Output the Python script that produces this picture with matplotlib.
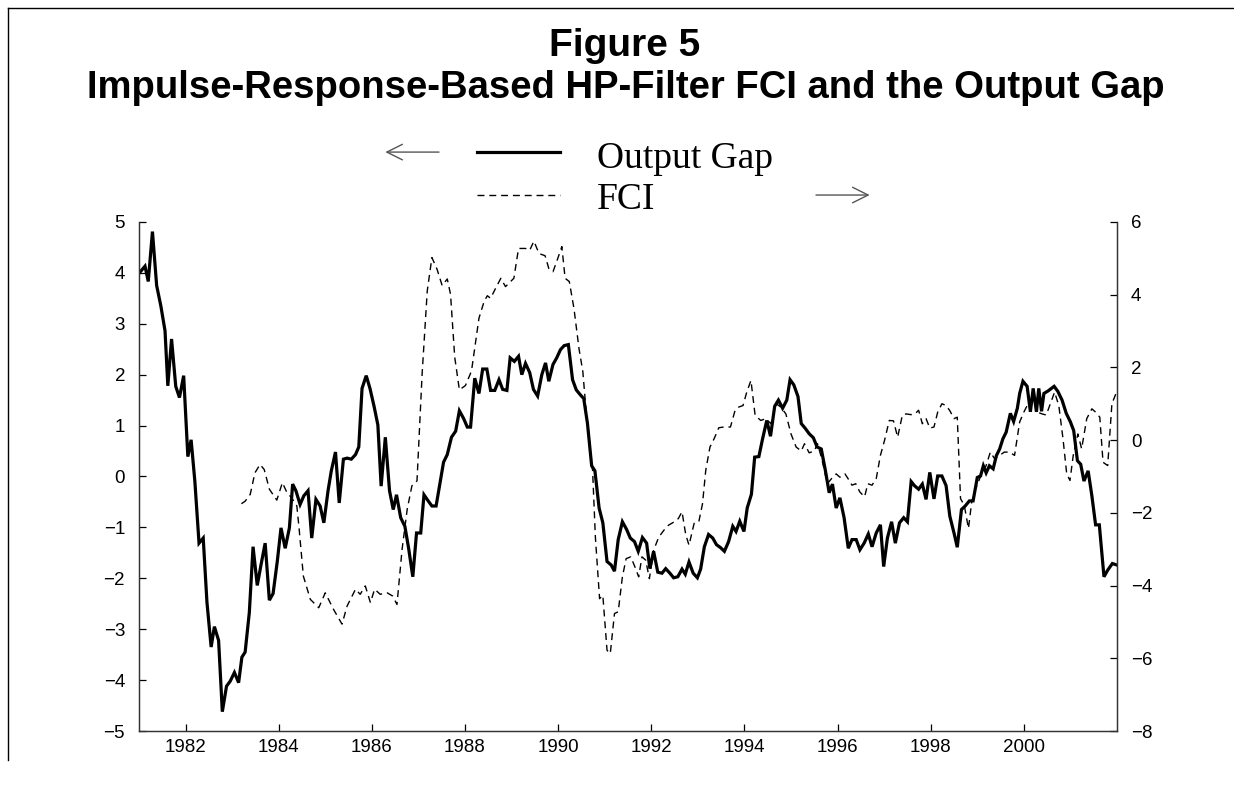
import matplotlib
matplotlib.use("Agg")
import matplotlib.pyplot as plt
from matplotlib.lines import Line2D
from matplotlib.patches import FancyArrowPatch

# output gap (left axis), decimal years
og_t = [1981.02, 1981.13, 1981.20, 1981.29, 1981.38, 1981.47, 1981.56, 1981.62, 1981.70, 1981.79,
        1981.87, 1981.96, 1982.05, 1982.12, 1982.20, 1982.29, 1982.38, 1982.46, 1982.55, 1982.62,
        1982.71, 1982.79, 1982.88, 1982.96, 1983.05, 1983.14, 1983.21, 1983.28, 1983.37, 1983.45,
        1983.54, 1983.62, 1983.71, 1983.80, 1983.88, 1983.97, 1984.05, 1984.14, 1984.23, 1984.30,
        1984.37, 1984.46, 1984.54, 1984.63, 1984.71, 1984.80, 1984.89, 1984.97, 1985.06, 1985.13,
        1985.22, 1985.30, 1985.39, 1985.47, 1985.56, 1985.65, 1985.72, 1985.79, 1985.88, 1985.96,
        1986.05, 1986.13, 1986.20, 1986.29, 1986.38, 1986.46, 1986.53, 1986.62, 1986.71, 1986.79,
        1986.88, 1986.96, 1987.05, 1987.12, 1987.21, 1987.29, 1987.38, 1987.47, 1987.54, 1987.62,
        1987.71, 1987.80, 1987.88, 1987.97, 1988.05, 1988.12, 1988.21, 1988.30, 1988.38, 1988.47,
        1988.55, 1988.64, 1988.73, 1988.81, 1988.90, 1988.97, 1989.06, 1989.15, 1989.22, 1989.30,
        1989.39, 1989.47, 1989.56, 1989.65, 1989.73, 1989.80, 1989.89, 1989.97, 1990.05, 1990.13,
        1990.22, 1990.31, 1990.39, 1990.48, 1990.55, 1990.63, 1990.72, 1990.79, 1990.88, 1990.96,
        1991.05, 1991.14, 1991.21, 1991.29, 1991.38, 1991.47, 1991.55, 1991.64, 1991.72, 1991.81,
        1991.90, 1991.97, 1992.05, 1992.14, 1992.23, 1992.31, 1992.40, 1992.48, 1992.57, 1992.66,
        1992.73, 1992.81, 1992.90, 1992.99, 1993.06, 1993.14, 1993.23, 1993.32, 1993.40, 1993.49,
        1993.57, 1993.66, 1993.75, 1993.82, 1993.90, 1993.99, 1994.06, 1994.15, 1994.22, 1994.31,
        1994.39, 1994.48, 1994.56, 1994.65, 1994.73, 1994.82, 1994.91, 1994.98, 1995.06, 1995.15,
        1995.22, 1995.31, 1995.39, 1995.48, 1995.56, 1995.65, 1995.74, 1995.82, 1995.89, 1995.97,
        1996.05, 1996.14, 1996.23, 1996.31, 1996.40, 1996.48, 1996.57, 1996.66, 1996.74, 1996.83,
        1996.92, 1996.99, 1997.07, 1997.16, 1997.24, 1997.33, 1997.42, 1997.50, 1997.58, 1997.65,
        1997.74, 1997.82, 1997.90, 1997.98, 1998.07, 1998.15, 1998.24, 1998.33, 1998.41, 1998.50,
        1998.57, 1998.66, 1998.74, 1998.83, 1998.91, 1999.00, 1999.07, 1999.13, 1999.19, 1999.26,
        1999.34, 1999.41, 1999.48, 1999.55, 1999.62, 1999.71, 1999.78, 1999.86, 1999.91, 1999.98,
        2000.07, 2000.14, 2000.20, 2000.27, 2000.32, 2000.38, 2000.43, 2000.52, 2000.65, 2000.73,
        2000.82, 2000.91, 2001.00, 2001.07, 2001.15, 2001.22, 2001.29, 2001.38, 2001.46, 2001.54,
        2001.62, 2001.72, 2001.80, 2001.90, 2002.00]
og_v = [4.01, 4.13, 3.83, 4.81, 3.75, 3.35, 2.86, 1.78, 2.70, 1.77,
        1.55, 1.98, 0.39, 0.72, -0.09, -1.31, -1.21, -2.47, -3.35, -2.95,
        -3.22, -4.62, -4.12, -4.02, -3.85, -4.05, -3.55, -3.45, -2.67, -1.38,
        -2.14, -1.74, -1.31, -2.43, -2.30, -1.67, -1.01, -1.41, -1.01, -0.15,
        -0.28, -0.55, -0.38, -0.28, -1.21, -0.45, -0.58, -0.91, -0.28, 0.11,
        0.48, -0.52, 0.34, 0.36, 0.34, 0.43, 0.58, 1.73, 1.98, 1.73,
        1.37, 1.01, -0.19, 0.77, -0.28, -0.65, -0.36, -0.81, -0.98, -1.41,
        -1.97, -1.11, -1.11, -0.36, -0.48, -0.58, -0.58, -0.09, 0.28, 0.43,
        0.77, 0.89, 1.29, 1.14, 0.97, 0.97, 1.93, 1.63, 2.11, 2.11,
        1.69, 1.69, 1.90, 1.71, 1.69, 2.33, 2.26, 2.36, 2.00, 2.22,
        2.04, 1.71, 1.58, 2.00, 2.23, 1.87, 2.20, 2.33, 2.49, 2.57,
        2.59, 1.90, 1.70, 1.60, 1.53, 1.04, 0.21, 0.11, -0.62, -0.91,
        -1.67, -1.74, -1.86, -1.24, -0.89, -1.04, -1.21, -1.28, -1.47, -1.20,
        -1.31, -1.81, -1.47, -1.88, -1.90, -1.81, -1.90, -1.99, -1.97, -1.82,
        -1.92, -1.68, -1.90, -1.99, -1.82, -1.38, -1.14, -1.21, -1.34, -1.40,
        -1.47, -1.28, -0.98, -1.08, -0.88, -1.08, -0.62, -0.35, 0.38, 0.39,
        0.74, 1.10, 0.79, 1.38, 1.50, 1.34, 1.50, 1.90, 1.80, 1.57,
        1.04, 0.94, 0.84, 0.76, 0.58, 0.54, 0.11, -0.32, -0.15, -0.62,
        -0.42, -0.81, -1.41, -1.24, -1.24, -1.44, -1.31, -1.13, -1.38, -1.11,
        -0.95, -1.77, -1.21, -0.89, -1.31, -0.91, -0.81, -0.89, -0.10, -0.18,
        -0.25, -0.15, -0.45, 0.08, -0.44, 0.01, 0.01, -0.18, -0.78, -1.11,
        -1.39, -0.65, -0.58, -0.48, -0.48, -0.02, 0.01, 0.21, 0.07, 0.21,
        0.15, 0.41, 0.54, 0.74, 0.87, 1.24, 1.08, 1.34, 1.63, 1.87,
        1.77, 1.27, 1.73, 1.27, 1.73, 1.28, 1.63, 1.68, 1.77, 1.67,
        1.50, 1.24, 1.07, 0.90, 0.31, 0.24, -0.09, 0.11, -0.38, -0.95,
        -0.95, -1.97, -1.84, -1.71, -1.74]

# FCI (right axis)
fci_t = [1983.20, 1983.28, 1983.39, 1983.49, 1983.60, 1983.69, 1983.80, 1983.96, 1984.08, 1984.18,
         1984.28, 1984.39, 1984.44, 1984.53, 1984.68, 1984.86, 1985.00, 1985.18, 1985.36, 1985.47,
         1985.65, 1985.75, 1985.86, 1985.97, 1986.06, 1986.18, 1986.33, 1986.45, 1986.54, 1986.65,
         1986.76, 1986.86, 1986.97, 1987.08, 1987.19, 1987.29, 1987.40, 1987.51, 1987.62, 1987.69,
         1987.78, 1987.88, 1988.01, 1988.14, 1988.30, 1988.41, 1988.48, 1988.55, 1988.66, 1988.77,
         1988.87, 1989.05, 1989.15, 1989.30, 1989.39, 1989.48, 1989.59, 1989.72, 1989.80, 1989.89,
         1989.98, 1990.08, 1990.15, 1990.24, 1990.34, 1990.45, 1990.53, 1990.59, 1990.66, 1990.74,
         1990.80, 1990.89, 1990.96, 1991.05, 1991.12, 1991.21, 1991.29, 1991.38, 1991.46, 1991.56,
         1991.65, 1991.73, 1991.80, 1991.88, 1991.96, 1992.05, 1992.16, 1992.27, 1992.37, 1992.49,
         1992.58, 1992.66, 1992.74, 1992.81, 1992.92, 1993.02, 1993.10, 1993.17, 1993.26, 1993.35,
         1993.45, 1993.56, 1993.70, 1993.80, 1993.88, 1993.97, 1994.05, 1994.14, 1994.23, 1994.35,
         1994.46, 1994.57, 1994.68, 1994.78, 1994.89, 1995.00, 1995.11, 1995.22, 1995.29, 1995.39,
         1995.50, 1995.57, 1995.67, 1995.78, 1995.87, 1995.97, 1996.05, 1996.16, 1996.25, 1996.31,
         1996.39, 1996.48, 1996.58, 1996.65, 1996.74, 1996.83, 1996.92, 1997.01, 1997.11, 1997.20,
         1997.29, 1997.39, 1997.47, 1997.58, 1997.66, 1997.74, 1997.82, 1997.90, 1997.98, 1998.07,
         1998.15, 1998.24, 1998.33, 1998.41, 1998.50, 1998.57, 1998.64, 1998.72, 1998.81, 1998.88,
         1998.96, 1999.07, 1999.19, 1999.28, 1999.37, 1999.48, 1999.58, 1999.69, 1999.80, 1999.91,
         2000.00, 2000.09, 2000.20, 2000.29, 2000.39, 2000.48, 2000.58, 2000.66, 2000.75, 2000.84,
         2000.92, 2000.99, 2001.06, 2001.16, 2001.24, 2001.35, 2001.46, 2001.54, 2001.63, 2001.70,
         2001.80, 2001.89, 2001.99]
fci_v = [-1.75, -1.68, -1.49, -0.90, -0.67, -0.81, -1.35, -1.65, -1.17, -1.45,
         -1.59, -1.81, -2.45, -3.74, -4.38, -4.61, -4.20, -4.66, -5.06, -4.56,
         -4.10, -4.24, -4.01, -4.47, -4.10, -4.24, -4.20, -4.29, -4.52, -3.00,
         -1.90, -1.26, -1.12, 1.82, 4.10, 5.02, 4.70, 4.25, 4.43, 4.01,
         2.28, 1.38, 1.50, 1.90, 3.35, 3.81, 3.97, 3.90, 4.18, 4.45,
         4.22, 4.45, 5.27, 5.27, 5.22, 5.47, 5.13, 5.07, 4.72, 4.63,
         4.95, 5.32, 4.45, 4.36, 3.62, 2.50, 1.89, 0.97, 0.17, -0.83,
         -2.67, -4.36, -4.27, -5.78, -5.87, -4.77, -4.72, -3.76, -3.26, -3.21,
         -3.49, -3.76, -3.21, -3.30, -3.81, -3.03, -2.67, -2.48, -2.34, -2.25,
         -2.16, -1.97, -2.60, -2.89, -2.29, -2.25, -1.75, -0.83, -0.19, 0.04,
         0.34, 0.36, 0.36, 0.82, 0.91, 0.95, 1.32, 1.64, 0.68, 0.54,
         0.59, 0.45, 1.00, 0.91, 0.72, 0.17, -0.19, -0.30, -0.10, -0.35,
         -0.30, -0.10, -0.56, -1.20, -1.06, -0.93, -1.02, -0.93, -1.11, -1.24,
         -1.20, -1.43, -1.56, -1.20, -1.24, -1.06, -0.42, 0.00, 0.54, 0.53,
         0.08, 0.68, 0.72, 0.70, 0.72, 0.82, 0.45, 0.59, 0.33, 0.36,
         0.77, 1.00, 0.95, 0.81, 0.59, 0.63, -1.61, -1.79, -2.43, -1.70,
         -1.35, -1.00, -0.70, -0.33, -0.51, -0.42, -0.33, -0.33, -0.42, 0.50,
         0.77, 1.00, 1.18, 0.77, 0.72, 0.69, 1.04, 1.32, 0.95, 0.04,
         -0.93, -1.11, -0.42, 0.17, -0.24, 0.59, 0.86, 0.77, 0.63, -0.61,
         -0.70, 1.00, 1.32]

year_ticks = [1982, 1984, 1986, 1988, 1990, 1992, 1994, 1996, 1998, 2000]

sans = "Liberation Sans"
serif = "Liberation Serif"

fig = plt.figure(figsize=(12.34, 7.88), dpi=100)
ax = fig.add_axes([0.1126, 0.0723, 0.7926, 0.6461])
ax2 = ax.twinx()

ax.plot(og_t, og_v, color="black", lw=2.3, solid_joinstyle="miter")
ax2.plot(fci_t, fci_v, color="black", lw=1.0, dashes=(5, 3.5))

ax.set_xlim(1981, 2002)
ax.set_ylim(-5, 5)
ax2.set_ylim(-8, 6)
ax.set_xticks(year_ticks)
ax.set_yticks(range(-5, 6))
ax2.set_yticks(range(-8, 7, 2))

for a in (ax, ax2):
    a.spines["top"].set_visible(False)
    for s in a.spines.values():
        s.set_linewidth(0.9)
        s.set_color("#333333")
    a.tick_params(direction="in", length=5, width=0.9, labelsize=13.5, colors="black")
    for lab in a.get_xticklabels() + a.get_yticklabels():
        lab.set_fontfamily(sans)
ax.tick_params(axis="x", pad=6)
ax.tick_params(axis="y", pad=10)
ax2.tick_params(axis="y", pad=10)

# titles
fig.text(0.506, 0.941, "Figure 5", ha="center", va="center",
         fontsize=28, fontweight="bold", family=sans)
fig.text(0.507, 0.888, "Impulse-Response-Based HP-Filter FCI and the Output Gap",
         ha="center", va="center", fontsize=27.5, fontweight="bold", family=sans)

# legend drawn by hand
fig.add_artist(Line2D([0.3866, 0.4538], [0.807, 0.807], color="black", lw=2.3,
                      transform=fig.transFigure))
fig.add_artist(Line2D([0.3866, 0.4538], [0.7525, 0.7525], color="black", lw=1.0,
                      dashes=(5, 3.5), transform=fig.transFigure))
fig.text(0.4838, 0.798, "Output Gap", ha="left", va="center", fontsize=27, family=serif)
fig.text(0.4838, 0.746, "FCI", ha="left", va="center", fontsize=27, family=serif)
fig.add_artist(FancyArrowPatch((0.358, 0.807), (0.310, 0.807), transform=fig.transFigure,
                               arrowstyle="->", mutation_scale=28, lw=1.0, color="#555555"))
fig.add_artist(FancyArrowPatch((0.659, 0.7525), (0.707, 0.7525), transform=fig.transFigure,
                               arrowstyle="->", mutation_scale=28, lw=1.0, color="#555555"))

# page frame (top and left only)
fig.add_artist(Line2D([0.0065, 1.0], [0.99, 0.99], color="black", lw=1.0,
                      transform=fig.transFigure))
fig.add_artist(Line2D([0.0065, 0.0065], [0.99, 0.035], color="black", lw=1.0,
                      transform=fig.transFigure))

fig.savefig("out.png", dpi=100)
